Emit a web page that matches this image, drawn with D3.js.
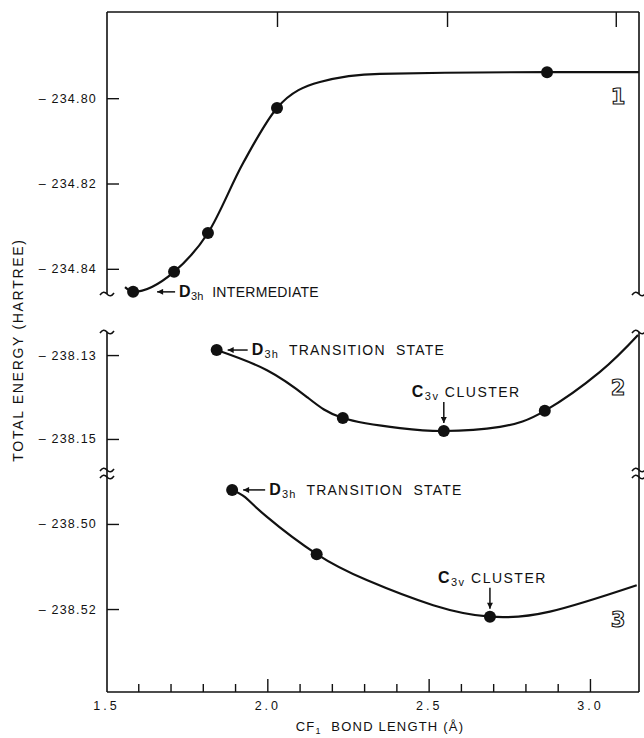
<!DOCTYPE html>
<html>
<head>
<meta charset="utf-8">
<script src="https://cdn.jsdelivr.net/npm/d3@7"></script>
<style>
  body { margin: 0; background: #fff; }
  svg text { font-family: "Liberation Sans", Arial, sans-serif; fill: #111; }
</style>
</head>
<body>
<div class="canvas"></div>
<script>
// bond length (Å) and total energy (hartree)
const xTickLabels = [1.5, 2.0, 2.5, 3.0];
const xMinorTicks = [1.6, 1.7, 1.8, 1.9, 2.1, 2.2, 2.3, 2.4, 2.6, 2.7, 2.8, 2.9];
const xMajorTicks = [2.0, 2.5, 3.0];
const topTicks = [2.03, 2.557, 3.08];

const ticks1 = [-234.80, -234.82, -234.84];
const ticks2 = [-238.13, -238.15];
const ticks3 = [-238.50, -238.52];

// curve 1
const bond1 = [1.584, 1.711, 1.816, 2.030, 2.867];
const energy1 = [-234.8454, -234.8407, -234.8316, -234.8023, -234.7939];
const fitBond1 = [1.559, 1.584, 1.711, 1.816, 1.925, 2.030, 2.163, 2.349, 2.867, 3.152];
const fitEnergy1 = [-234.8443, -234.8454, -234.8407, -234.8316, -234.8152, -234.8023, -234.7962, -234.7943, -234.7939, -234.7939];

// curve 2
const bond2 = [1.843, 2.234, 2.547, 2.860];
const energy2 = [-238.1288, -238.1450, -238.1481, -238.1433];
const fitBond2 = [1.843, 1.999, 2.123, 2.234, 2.411, 2.547, 2.721, 2.860, 3.031, 3.149];
const fitEnergy2 = [-238.1288, -238.1336, -238.1400, -238.1450, -238.1474, -238.1481, -238.1471, -238.1433, -238.1340, -238.1252];

// curve 3
const bond3 = [1.891, 2.153, 2.690];
const energy3 = [-238.4920, -238.5071, -238.5218];
const fitBond3 = [1.891, 1.931, 1.998, 2.153, 2.308, 2.514, 2.690, 2.876, 3.145];
const fitEnergy3 = [-238.4920, -238.4937, -238.4983, -238.5071, -238.5132, -238.5191, -238.5218, -238.5206, -238.5144];

const svg = d3.select('.canvas')
  .append('svg')
  .attr('width', 644)
  .attr('height', 738);

svg.append('defs').append('marker')
  .attr('id', 'head')
  .attr('viewBox', '0 0 10 10')
  .attr('refX', 10).attr('refY', 5)
  .attr('markerWidth', 8).attr('markerHeight', 6)
  .attr('markerUnits', 'userSpaceOnUse')
  .attr('orient', 'auto')
  .append('path')
  .attr('d', 'M0,0 L10,5 L0,10 Z')
  .attr('fill', '#111');

const frame = { left: 107, right: 639, top: 12, bottom: 692 };

const x = d3.scaleLinear().domain([1.5, 3.152]).range([106, 639]);

const panels = [
  { ticks: ticks1, bond: bond1, energy: energy1, fitBond: fitBond1, fitEnergy: fitEnergy1,
    y: d3.scaleLinear().domain([-234.8459, -234.7798]).range([294, 12]),
    curve: d3.curveMonotoneX, tag: '1', tagY: 97 },
  { ticks: ticks2, bond: bond2, energy: energy2, fitBond: fitBond2, fitEnergy: fitEnergy2,
    y: d3.scaleLinear().domain([-238.1574, -238.1245]).range([470, 332]),
    curve: d3.curveNatural, tag: '2', tagY: 388 },
  { ticks: ticks3, bond: bond3, energy: energy3, fitBond: fitBond3, fitEnergy: fitEnergy3,
    y: d3.scaleLinear().domain([-238.5395, -238.4892]).range([692, 478]),
    curve: d3.curveNatural, tag: '3', tagY: 620 }
];

const ink = '#111';

// frame (broken side axes)
const seg = (x1, y1, x2, y2, w) => svg.append('line')
  .attr('x1', x1).attr('y1', y1).attr('x2', x2).attr('y2', y2)
  .attr('stroke', ink).attr('stroke-width', w || 1.6);

seg(frame.left, frame.top, frame.right, frame.top);
seg(frame.left, frame.bottom, frame.right, frame.bottom);
[frame.left, frame.right].forEach(xx => {
  seg(xx, frame.top, xx, 294);
  seg(xx, 332, xx, frame.bottom);
});

// little "~" break marks
const tilde = (cx, cy) => svg.append('path')
  .attr('d', `M${cx - 7},${cy + 1} q3.5,-5 7,-1 t7,-1`)
  .attr('fill', 'none').attr('stroke', ink).attr('stroke-width', 1.6);
[frame.left, frame.right].forEach(xx => {
  tilde(xx, 294);
  tilde(xx, 332);
  tilde(xx, 470);
  tilde(xx, 477);
});

// y axes, one per panel
panels.forEach(p => {
  const g = svg.append('g')
    .attr('transform', `translate(${frame.left},0)`)
    .call(d3.axisLeft(p.y)
      .tickValues(p.ticks)
      .tickSize(-12)
      .tickPadding(10)
      .tickFormat(d => '\u2013 ' + Math.abs(d).toFixed(2)));
  g.select('.domain').remove();
  g.selectAll('line').attr('stroke', ink).attr('stroke-width', 1.4);
  g.selectAll('text')
    .style('font-size', '12.5px')
    .style('letter-spacing', '1.2px')
    .attr('fill', ink);
});

// x axis ticks (pointing inward)
const minorAxis = svg.append('g')
  .attr('transform', `translate(0,${frame.bottom})`)
  .call(d3.axisBottom(x).tickValues(xMinorTicks).tickSize(-8).tickFormat(''));
const majorAxis = svg.append('g')
  .attr('transform', `translate(0,${frame.bottom})`)
  .call(d3.axisBottom(x).tickValues(xMajorTicks).tickSize(-13).tickFormat(''));
const labelAxis = svg.append('g')
  .attr('transform', `translate(0,${frame.bottom})`)
  .call(d3.axisBottom(x).tickValues(xTickLabels).tickSize(0).tickPadding(9)
    .tickFormat(d3.format('.1f')));
[minorAxis, majorAxis, labelAxis].forEach(g => {
  g.select('.domain').remove();
  g.selectAll('line').attr('stroke', ink).attr('stroke-width', 1.4);
});
labelAxis.selectAll('text')
  .style('font-size', '12.5px')
  .style('letter-spacing', '3px')
  .attr('fill', ink);

// ticks hanging from the top edge
svg.append('g')
  .attr('transform', `translate(0,${frame.top})`)
  .call(d3.axisTop(x).tickValues(topTicks).tickSize(-15).tickFormat(''))
  .call(g => g.select('.domain').remove())
  .selectAll('line').attr('stroke', ink).attr('stroke-width', 1.4);

// axis titles
const xt = svg.append('text')
  .attr('x', 380).attr('y', 731)
  .attr('text-anchor', 'middle')
  .style('font-size', '13px')
  .style('letter-spacing', '1.2px');
xt.append('tspan').text('CF');
xt.append('tspan').attr('dy', 3).style('font-size', '9px').text('1');
xt.append('tspan').attr('dy', -3).text('\u00a0 BOND LENGTH (\u00c5)');

svg.append('text')
  .attr('transform', 'translate(23,350) rotate(-90)')
  .attr('text-anchor', 'middle')
  .style('font-size', '14px')
  .style('letter-spacing', '1.7px')
  .text('TOTAL ENERGY (HARTREE)');

// curves and points
panels.forEach(p => {
  const line = d3.line().curve(p.curve);
  const fit = p.fitBond.map((b, i) => [x(b), p.y(p.fitEnergy[i])]);
  svg.append('path')
    .attr('d', line(fit))
    .attr('fill', 'none')
    .attr('stroke', ink)
    .attr('stroke-width', 2.2);

  svg.selectAll(null)
    .data(p.bond.map((b, i) => [b, p.energy[i]]))
    .enter().append('circle')
    .attr('cx', d => x(d[0]))
    .attr('cy', d => p.y(d[1]))
    .attr('r', 6)
    .attr('fill', ink);

  svg.append('text')
    .attr('x', frame.right - 21)
    .attr('y', p.tagY)
    .attr('text-anchor', 'middle')
    .attr('dominant-baseline', 'central')
    .style('font-family', '"DejaVu Sans", sans-serif')
    .style('font-size', '21px')
    .style('font-weight', 'bold')
    .style('fill', '#fff')
    .attr('stroke', ink)
    .attr('stroke-width', 1.1)
    .text(p.tag);
});

// annotations
function label(tx, ty, sym, sub, rest, spacing) {
  const t = svg.append('text')
    .attr('x', tx).attr('y', ty)
    .style('font-size', '14px')
    .style('letter-spacing', spacing + 'px');
  t.append('tspan').style('font-size', '16px').style('font-weight', 'bold').text(sym);
  t.append('tspan').attr('dy', 3).style('font-size', '11px').text(sub);
  t.append('tspan').attr('dy', -3).text(rest);
}

function leftNote(p, i, gap, len, sym, sub, rest, spacing) {
  const px = x(p.bond[i]), py = p.y(p.energy[i]);
  svg.append('line')
    .attr('x1', px + gap + len).attr('y1', py)
    .attr('x2', px + gap).attr('y2', py)
    .attr('stroke', ink).attr('stroke-width', 1.5)
    .attr('marker-end', 'url(#head)');
  label(px + gap + len + 4, py + 5, sym, sub, rest, spacing);
}

function downNote(p, i, dx, sym, sub, rest) {
  const px = x(p.bond[i]), py = p.y(p.energy[i]);
  svg.append('line')
    .attr('x1', px).attr('y1', py - 29)
    .attr('x2', px).attr('y2', py - 8)
    .attr('stroke', ink).attr('stroke-width', 1.5)
    .attr('marker-end', 'url(#head)');
  label(px + dx, py - 34, sym, sub, rest, 1.5);
}

leftNote(panels[0], 0, 24, 18, 'D', '3h', '\u00a0 INTERMEDIATE', 0.3);
leftNote(panels[1], 0, 11, 20, 'D', '3h', '\u00a0 TRANSITION\u00a0 STATE', 1.2);
leftNote(panels[2], 0, 11, 22, 'D', '3h', '\u00a0 TRANSITION\u00a0 STATE', 1.2);
downNote(panels[1], 2, -32, 'C', '3v', '\u00a0CLUSTER');
downNote(panels[2], 2, -52, 'C', '3v', '\u00a0CLUSTER');
</script>
</body>
</html>
